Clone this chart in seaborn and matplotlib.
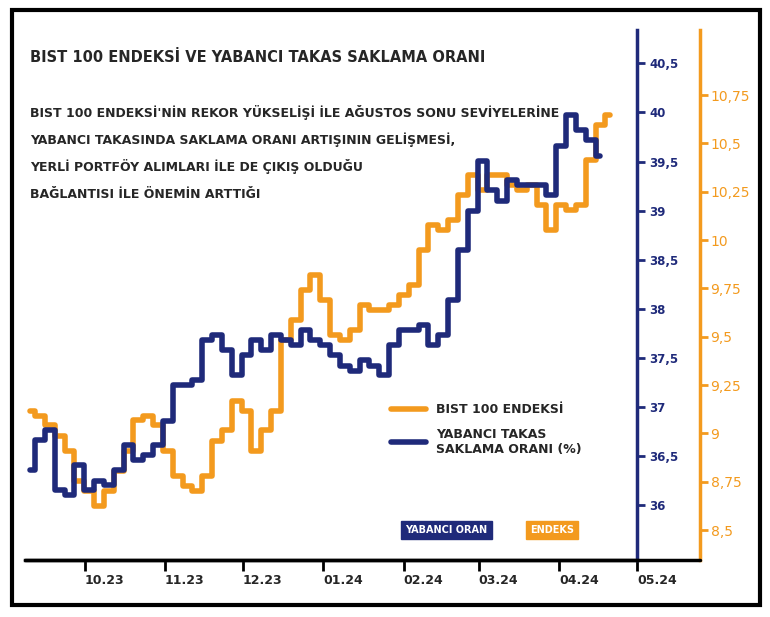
import numpy as np
import pandas as pd
import matplotlib.pyplot as plt
import seaborn as sns
from matplotlib.lines import Line2D

sns.set_style("white")
plt.rcParams['font.family'] = ['DejaVu Sans']

NAVY = "#1f2a7a"
ORANGE = "#f39a1e"

# yabanci saklama orani (%)
saklama = [36.36, 36.66, 36.76, 36.15, 36.10, 36.41, 36.15, 36.25, 36.20, 36.36,
           36.61, 36.46, 36.51, 36.61, 36.86, 37.22, 37.22, 37.27, 37.68, 37.73,
           37.58, 37.32, 37.53, 37.68, 37.58, 37.73, 37.68, 37.63, 37.78, 37.68,
           37.63, 37.53, 37.42, 37.37, 37.48, 37.42, 37.32, 37.63, 37.78, 37.78,
           37.83, 37.63, 37.73, 38.09, 38.60, 39.00, 39.51, 39.21, 39.10, 39.31,
           39.26, 39.26, 39.26, 39.16, 39.66, 39.97, 39.82, 39.72, 39.56]
# BIST 100 endeksi (bin puan)
endeks = [9.118, 9.092, 9.041, 8.989, 8.911, 8.756, 8.704, 8.626, 8.704, 8.808,
          8.911, 9.067, 9.092, 9.041, 8.911, 8.782, 8.730, 8.704, 8.782, 8.963,
          9.015, 9.170, 9.118, 8.911, 9.015, 9.118, 9.481, 9.585, 9.740, 9.818,
          9.688, 9.507, 9.481, 9.533, 9.662, 9.636, 9.636, 9.662, 9.714, 9.766,
          9.947, 10.077, 10.051, 10.103, 10.232, 10.336, 10.258, 10.336, 10.336, 10.284,
          10.258, 10.284, 10.180, 10.051, 10.180, 10.155, 10.180, 10.413, 10.595, 10.646]

d_saklama = pd.date_range("2023-09-10", periods=len(saklama), freq="91h")
d_endeks = pd.date_range("2023-09-10", periods=len(endeks), freq="91h")

left_ticks = [36, 36.5, 37, 37.5, 38, 38.5, 39, 39.5, 40, 40.5]
left_labels = ["36", "36,5", "37", "37,5", "38", "38,5", "39", "39,5", "40", "40,5"]
right_ticks = [8.5, 8.75, 9, 9.25, 9.5, 9.75, 10, 10.25, 10.5, 10.75]
right_labels = ["8,5", "8,75", "9", "9,25", "9,5", "9,75", "10", "10,25", "10,5", "10,75"]
month_ticks = pd.to_datetime(["2023-10-01", "2023-11-01", "2023-12-01", "2024-01-01",
                              "2024-02-01", "2024-03-01", "2024-04-01", "2024-05-01"])
month_labels = ["10.23", "11.23", "12.23", "01.24", "02.24", "03.24", "04.24", "05.24"]

W, H = 770, 617
fig = plt.figure(figsize=(7.7, 6.17), dpi=100)
fig.patches.append(plt.Rectangle((12/W, 12/H), 748/W, 595/H, transform=fig.transFigure,
                                 fill=False, lw=3, color="black"))
ax = fig.add_axes([25/W, (H-560)/H, (637-25)/W, (560-30)/H])
ax2 = ax.twinx()

sns.lineplot(x=d_endeks, y=endeks, ax=ax2, color=ORANGE, lw=4, drawstyle="steps-mid")
sns.lineplot(x=d_saklama, y=saklama, ax=ax, color=NAVY, lw=4, drawstyle="steps-mid")
ax.set_zorder(ax2.get_zorder() + 1)
ax.patch.set_visible(False)

ax.set_xlim(pd.Timestamp("2023-09-08"), pd.Timestamp("2024-05-01"))
ax.set_ylim(35.44, 40.84)
ax2.set_ylim(8.345, 11.087)

ax.yaxis.tick_right()
ax.set_yticks(left_ticks, left_labels, fontsize=8.5, fontweight="bold")
ax2.set_yticks(right_ticks, right_labels, fontsize=8, fontweight="bold")
ax.tick_params(axis="y", right=True, left=False, length=6, width=2, color=NAVY, pad=3,
               labelright=True, labelleft=False, labelcolor=NAVY)
ax2.tick_params(axis="y", length=6, width=2, color=ORANGE, pad=2, labelcolor=ORANGE)
ax.set_xticks(month_ticks, month_labels, fontsize=9, fontweight="bold", ha="left")
ax.tick_params(axis="x", bottom=True, length=8, width=2, color="black", pad=2)

for a in (ax, ax2):
    for s in ("top", "left"):
        a.spines[s].set_visible(False)
ax.spines["right"].set_color(NAVY)
ax.spines["right"].set_linewidth(2.5)
ax.spines["bottom"].set_linewidth(2.5)
ax2.spines["bottom"].set_visible(False)
ax2.spines["right"].set_position(("outward", 45))
ax2.spines["right"].set_color(ORANGE)
ax2.spines["right"].set_linewidth(2.5)
fig.add_artist(Line2D([25/W, 700/W], [(H-560)/H]*2, color="black", lw=2.5))
ax.set_xlabel("")

fig.text(30/W, 1-57/H, "BIST 100 ENDEKSİ VE YABANCI TAKAS SAKLAMA ORANI",
         fontsize=10.5, fontweight="bold", va="center")
para = ["BIST 100 ENDEKSİ'NİN REKOR YÜKSELİŞİ İLE AĞUSTOS SONU SEVİYELERİNE",
        "YABANCI TAKASINDA SAKLAMA ORANI ARTIŞININ GELİŞMESİ,",
        "YERLİ PORTFÖY ALIMLARI İLE DE ÇIKIŞ OLDUĞU",
        "BAĞLANTISI İLE ÖNEMİN ARTTIĞI"]
for i, line in enumerate(para):
    fig.text(30/W, 1-(113+27*i)/H, line, fontsize=9, fontweight="bold", va="center")

leg = [Line2D([], [], color=ORANGE, lw=4), Line2D([], [], color=NAVY, lw=4)]
fig.legend(leg, ["BIST 100 ENDEKSİ", "YABANCI TAKAS\nSAKLAMA ORANI (%)"],
           loc="upper left", bbox_to_anchor=(380/W, 1-392/H), frameon=False,
           prop={"weight": "bold", "size": 9}, handlelength=2.8, labelspacing=0.9)
fig.text(405/W, 1-530/H, "YABANCI ORAN", fontsize=7, fontweight="bold", color="white",
         va="center", bbox=dict(boxstyle="square,pad=0.45", fc=NAVY, ec=NAVY))
fig.text(530/W, 1-530/H, "ENDEKS", fontsize=7, fontweight="bold", color="white",
         va="center", bbox=dict(boxstyle="square,pad=0.45", fc=ORANGE, ec=ORANGE))

fig.savefig("out.png", dpi=100)
